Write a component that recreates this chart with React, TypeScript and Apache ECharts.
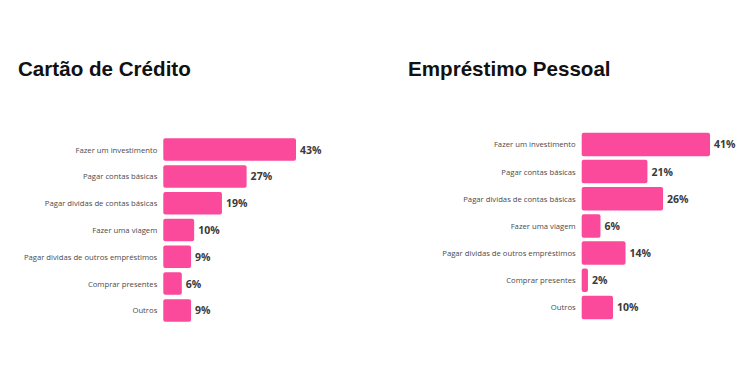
import React, { useEffect, useRef } from "react";
import * as echarts from "echarts";

const titleLeft = "Cartão de Crédito";
const titleRight = "Empréstimo Pessoal";

const categories = [
  "Fazer um investimento",
  "Pagar contas básicas",
  "Pagar dividas de contas básicas",
  "Fazer uma viagem",
  "Pagar dividas de outros empréstimos",
  "Comprar presentes",
  "Outros",
];

const cartaoValues = [43, 27, 19, 10, 9, 6, 9];
const emprestimoValues = [41, 21, 26, 6, 14, 2, 10];

const PINK = "#fb4a9b";
const CAT_FONT = "'Open Sans', 'Noto Sans', sans-serif";

export default function App() {
  const ref = useRef<HTMLDivElement>(null);
  useEffect(() => {
    if (!ref.current) return;
    const chart = echarts.init(ref.current, undefined, { renderer: "svg" });
    const yAxisBase = (gridIndex: number) => ({
      type: "category" as const,
      gridIndex,
      data: categories,
      inverse: true,
      axisLine: { show: false },
      axisTick: { show: false },
      splitLine: { show: false },
      axisLabel: {
        margin: 6,
        fontSize: 7.7,
        color: "#4a4a4a",
        fontFamily: CAT_FONT,
      },
    });
    const xAxisBase = (gridIndex: number) => ({
      type: "value" as const,
      gridIndex,
      min: 0,
      max: 50,
      show: false,
    });
    const seriesBase = (idx: number, data: number[], gap: string) => ({
      type: "bar" as const,
      xAxisIndex: idx,
      yAxisIndex: idx,
      data,
      barCategoryGap: gap,
      itemStyle: { color: PINK, borderRadius: 2 },
      label: {
        show: true,
        position: "right" as const,
        distance: 4,
        formatter: "{c}%",
        fontSize: 10.5,
        fontWeight: "bold" as const,
        color: "#3a3a3a",
        fontFamily: CAT_FONT,
      },
    });
    chart.setOption({
      animation: false,
      backgroundColor: "#ffffff",
      title: [
        {
          text: titleLeft,
          left: 18,
          top: 58,
          padding: 0,
          textStyle: {
            fontFamily: "'Liberation Sans', Arial, sans-serif",
            fontWeight: "bold",
            fontSize: 20.6,
            color: "#111",
          },
        },
        {
          text: titleRight,
          left: 408,
          top: 58,
          padding: 0,
          textStyle: {
            fontFamily: "'Liberation Sans', Arial, sans-serif",
            fontWeight: "bold",
            fontSize: 20.6,
            color: "#111",
          },
        },
      ],
      grid: [
        { left: 163.3, top: 136.2, width: 154.3, height: 187.6 },
        { left: 581.7, top: 130.8, width: 156.5, height: 190.2 },
      ],
      xAxis: [xAxisBase(0), xAxisBase(1)],
      yAxis: [yAxisBase(0), yAxisBase(1)],
      series: [
        seriesBase(0, cartaoValues, "16%"),
        seriesBase(1, emprestimoValues, "13.5%"),
      ],
    });
    return () => chart.dispose();
  }, []);
  return (
    <div
      ref={ref}
      style={{ position: "fixed", left: 0, top: 0, width: 750, height: 371 }}
    />
  );
}
